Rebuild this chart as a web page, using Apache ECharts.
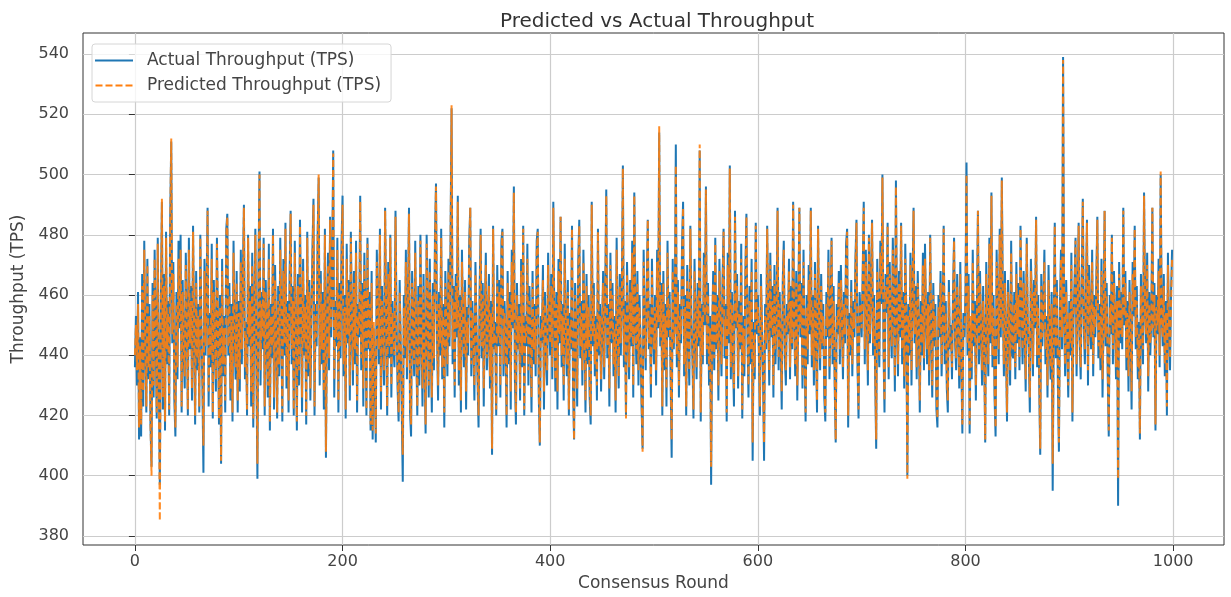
<!DOCTYPE html>
<html>
<head>
<meta charset="utf-8">
<script src="https://cdn.jsdelivr.net/npm/echarts@6/dist/echarts.min.js"></script>
<style>
html,body{margin:0;padding:0;background:#fff;}
#main{width:1231px;height:597px;}
</style>
</head>
<body>
<div id="main"></div>
<script>
var xTicks = [0, 200, 400, 600, 800, 1000];
var yTicks = [380, 400, 420, 440, 460, 480, 500, 520, 540];

// throughput per consensus round
var actualTps = [
436,453,430,461,412,446,413,467,423,478,442,421,472,432,457,417,403,464,426,475,447,419,479,433,397,457,491,422,467,415,481,437,458,420,486,511,444,471,425,413,461,432,478,449,480,421,465,440,429,474,
453,420,479,442,463,425,483,446,417,468,435,457,421,480,450,430,401,472,440,461,489,423,454,436,477,419,465,444,428,479,449,417,460,404,472,433,453,421,482,487,440,464,425,457,418,478,446,432,468,421,
458,428,475,437,467,490,432,451,420,480,443,463,423,474,416,454,482,436,399,468,501,430,461,442,479,420,465,447,426,477,415,457,439,482,422,470,446,419,463,433,479,451,418,472,440,484,429,458,421,467,
488,437,463,420,478,446,415,467,430,485,453,421,472,440,460,417,481,433,465,425,450,475,492,420,457,443,480,499,430,468,437,461,422,482,406,453,474,435,486,446,468,508,426,458,443,479,421,464,439,477,
493,433,460,419,477,444,465,425,481,450,430,468,437,478,421,457,446,493,435,464,423,474,453,420,479,442,461,415,468,412,449,432,411,475,454,437,482,422,463,444,430,489,451,420,471,439,480,426,458,443,
436,488,453,429,418,465,444,422,398,460,439,475,432,457,489,421,413,468,449,433,478,442,420,463,430,480,447,423,467,437,414,480,453,426,472,443,421,464,435,479,497,446,425,461,440,482,432,457,416,468,
453,433,472,443,479,522,437,463,426,467,446,493,430,460,421,475,450,436,465,422,456,440,478,489,433,458,444,425,471,449,432,416,461,482,439,464,423,454,474,435,447,467,429,458,407,483,442,451,420,470,
443,465,426,478,482,433,458,446,416,468,437,461,422,475,449,496,432,417,464,442,457,425,472,436,483,420,453,443,477,430,463,447,421,468,437,457,433,478,482,426,410,453,444,470,422,461,440,430,474,449,
440,467,432,491,451,428,461,422,472,444,486,436,457,425,477,447,433,465,420,454,442,483,429,412,464,446,423,471,485,439,458,430,475,449,421,467,437,460,426,417,491,443,464,433,453,425,482,440,457,428,
449,468,432,461,495,439,457,423,474,444,464,433,453,421,479,446,429,467,440,461,503,436,458,420,471,449,432,465,443,478,426,494,453,437,468,430,460,444,423,409,475,450,435,464,485,442,457,426,472,447,
437,460,430,475,449,514,443,464,420,468,435,457,423,478,446,461,432,406,472,442,453,510,436,465,426,457,444,477,491,433,460,420,470,447,430,483,453,439,419,472,449,432,464,443,508,418,457,437,474,450,
496,437,464,430,453,397,447,468,435,479,442,460,425,472,450,433,465,482,439,457,418,474,444,503,432,461,440,423,488,449,467,429,458,442,477,419,453,433,468,487,446,426,463,437,472,405,451,432,484,447,
460,440,420,467,449,433,405,457,442,483,451,430,474,446,463,426,470,437,453,489,435,461,444,422,465,478,439,430,457,447,472,432,463,442,491,453,433,468,425,457,489,446,464,429,475,440,418,460,437,470,
447,489,436,460,430,471,444,421,483,451,435,467,442,457,426,418,461,446,475,432,453,479,437,463,430,411,457,447,468,437,470,450,432,461,444,477,482,416,454,440,465,433,458,446,472,485,436,419,461,453,
446,468,491,437,475,453,430,480,444,464,485,440,460,433,409,472,451,436,478,457,500,443,421,467,454,484,432,471,449,439,479,458,428,498,450,433,468,446,484,437,461,429,477,453,400,457,440,474,430,463,
489,444,463,432,468,450,421,458,440,474,435,477,453,437,461,430,480,447,426,464,443,457,422,416,460,446,468,433,453,483,437,458,429,421,465,442,450,432,461,479,444,435,467,449,429,471,437,414,454,446,
461,504,440,467,414,450,432,475,443,458,425,457,488,437,468,447,430,463,442,411,471,450,433,479,444,494,436,460,426,413,475,453,437,482,446,499,458,433,468,443,418,465,449,430,478,440,439,461,432,471,
444,464,435,483,453,437,468,446,428,479,450,440,421,472,457,433,465,449,486,436,460,430,407,467,443,457,475,437,453,426,470,446,432,461,395,450,484,439,465,430,408,457,475,442,539,453,433,465,443,426,
458,440,474,418,451,464,479,433,457,484,444,432,467,492,449,437,461,485,430,470,450,442,475,433,460,446,465,486,439,457,435,472,426,453,488,443,464,433,413,460,447,480,437,468,453,432,463,390,471,444,
461,442,489,450,468,435,458,428,465,446,422,471,453,483,442,463,432,451,412,467,449,437,494,457,444,474,428,461,440,453,489,446,464,415,460,447,472,436,500,454,443,467,433,458,420,474,449,435,461,475
];

var predictedTps = [
440,450,435,457,416,443,417,463,428,475,444,423,470,436,453,418,400,460,430,472,450,421,477,430,385,453,492,426,463,418,479,442,454,422,484,512,447,467,430,416,457,436,472,451,475,423,461,443,433,470,
449,422,475,444,458,429,481,449,420,464,439,453,423,479,453,435,410,468,443,457,488,428,450,440,472,421,461,447,432,477,451,419,456,405,468,437,449,425,480,486,443,460,429,453,421,474,449,436,464,425,
454,432,471,442,463,489,436,447,422,479,446,458,428,470,419,450,480,440,404,464,500,435,457,446,477,423,461,450,430,472,418,453,443,480,426,465,449,421,458,437,475,454,421,468,444,482,433,454,425,463,
487,442,458,422,474,449,418,463,435,483,456,426,468,444,456,420,479,437,461,429,453,471,490,423,453,446,478,500,435,464,442,457,428,480,408,449,470,439,485,449,464,507,432,454,446,475,425,460,443,472,
490,437,456,422,472,447,461,430,479,453,435,464,442,474,425,453,449,491,439,460,429,470,456,422,477,444,457,417,464,415,451,436,414,471,457,442,480,428,458,447,435,488,454,423,467,443,479,430,454,446,
440,486,449,433,421,461,447,428,407,456,443,471,436,453,487,425,417,464,451,437,474,444,423,458,435,478,450,429,463,442,417,477,456,430,468,446,426,460,439,475,496,449,430,457,444,479,436,453,421,464,
449,437,468,446,475,523,442,458,430,463,449,491,435,456,425,471,453,440,461,428,451,444,474,489,437,454,447,430,467,451,436,420,457,480,443,460,429,450,470,439,450,463,433,454,409,482,444,447,422,465,
446,461,430,474,481,437,454,449,420,464,442,457,428,471,451,494,436,421,460,444,453,429,468,440,482,422,449,446,472,435,458,450,426,464,442,453,437,474,481,430,411,449,447,465,428,457,443,435,470,451,
444,463,436,489,454,432,457,428,468,447,486,440,453,430,472,450,437,461,422,450,444,482,433,412,460,449,429,467,483,443,454,435,471,451,425,463,442,456,430,420,490,446,460,437,449,430,481,443,453,432,
451,464,436,457,493,443,453,429,470,447,460,437,449,425,475,449,433,463,444,457,502,440,454,419,467,451,436,461,446,474,430,493,449,442,464,435,456,447,428,408,471,453,439,460,485,444,453,430,468,450,
442,456,435,471,451,516,446,460,423,464,439,453,429,474,449,457,436,412,468,444,449,503,440,461,430,453,447,472,489,437,456,423,465,450,435,482,449,442,422,468,451,436,460,446,510,421,453,440,470,453,
495,442,460,435,449,403,450,464,439,477,444,456,430,468,453,437,461,481,443,453,421,470,447,502,436,457,443,429,486,451,463,433,454,444,472,422,449,437,464,486,449,430,458,442,468,411,447,436,483,450,
456,444,423,463,451,437,411,453,444,482,454,435,470,449,458,430,465,442,449,488,439,457,447,428,461,475,443,435,453,450,468,436,458,444,490,449,437,464,430,453,489,449,460,433,471,443,421,456,442,465,
450,488,440,456,435,467,447,425,482,454,439,463,444,453,432,421,457,449,471,436,449,478,442,458,435,412,453,450,464,442,465,453,436,457,447,472,481,420,450,443,461,437,454,449,468,484,440,422,457,456,
449,464,489,442,471,456,435,479,447,460,484,444,456,437,412,468,454,440,474,460,499,446,425,463,457,483,436,467,451,443,475,461,433,496,453,437,464,449,483,442,457,433,472,456,399,453,444,470,435,458,
488,447,458,436,464,453,425,454,444,470,439,472,456,442,457,435,479,450,430,460,446,453,428,419,456,449,464,437,449,482,442,454,433,425,461,444,446,436,457,478,447,439,463,451,433,467,442,417,450,449,
457,500,444,463,417,453,436,471,446,454,430,453,488,442,464,450,435,458,444,412,467,453,437,477,447,493,440,456,430,416,471,456,442,480,449,498,454,437,464,446,421,461,451,435,474,443,442,457,436,467,
447,460,439,482,456,442,464,449,432,477,453,444,426,468,460,437,461,451,485,440,456,435,409,463,446,453,471,442,449,430,465,449,436,457,404,446,483,443,461,435,411,453,472,446,538,456,437,461,446,430,
454,444,470,421,454,460,478,437,453,483,447,436,463,491,451,442,457,484,435,465,453,446,471,437,456,449,461,485,443,453,439,468,432,449,488,446,460,437,415,456,450,479,442,464,456,436,458,399,467,447,
457,446,488,453,464,439,454,433,461,449,428,467,456,482,446,458,436,447,414,463,451,442,493,453,447,470,433,457,444,449,489,449,460,417,456,450,468,440,501,451,446,463,437,454,423,470,451,439,457,472
];

var actualData = [];
var predictedData = [];
for (var i = 0; i < actualTps.length; i++) {
    actualData.push([i, actualTps[i]]);
    predictedData.push([i, predictedTps[i]]);
}

var myChart = echarts.init(document.getElementById('main'), null, {renderer: 'canvas'});
var fontFam = 'DejaVu Sans';

option = {
    animation: false,
    backgroundColor: '#fff',
    title: {
        text: 'Predicted vs Actual Throughput',
        left: 652,
        top: 7,
        textAlign: 'center',
        textStyle: {fontFamily: fontFam, fontSize: 20, fontWeight: 'normal', color: '#333'}
    },
    legend: {
        orient: 'vertical',
        left: 92,
        top: 44,
        padding: [8, 10, 8, 3],
        itemGap: 8,
        itemWidth: 38,
        itemHeight: 2,
        backgroundColor: 'rgba(255,255,255,0.8)',
        borderColor: '#d6d6d6',
        borderWidth: 1,
        borderRadius: 3,
        textStyle: {fontFamily: fontFam, fontSize: 17, lineHeight: 17, color: '#444', padding: [0, 0, 0, 9]},
        data: [
            {name: 'Actual Throughput (TPS)', icon: 'path://M0,0h38v2h-38z'},
            {name: 'Predicted Throughput (TPS)', icon: 'path://M0,0h7v2h-7zM10,0h7v2h-7zM20,0h7v2h-7zM30,0h7v2h-7z'}
        ]
    },
    grid: {
        left: 83,
        right: 7,
        top: 33,
        bottom: 51,
        show: true,
        borderColor: '#333',
        borderWidth: 1,
        backgroundColor: 'transparent'
    },
    xAxis: {
        type: 'value',
        min: -50,
        max: 1049,
        name: 'Consensus Round',
        nameLocation: 'middle',
        nameGap: 30,
        nameTextStyle: {fontFamily: fontFam, fontSize: 17, color: '#444'},
        axisLine: {show: false},
        axisTick: {show: true, length: 6, lineStyle: {color: '#333'}, customValues: xTicks},
        axisLabel: {fontFamily: fontFam, fontSize: 16, color: '#444', margin: 9, customValues: xTicks,
            formatter: function (v) { return String(v); }},
        splitLine: {show: true, lineStyle: {color: '#cccccc', width: 1.2}}
    },
    yAxis: {
        type: 'value',
        min: 377,
        max: 547,
        name: 'Throughput (TPS)',
        nameLocation: 'middle',
        nameGap: 55,
        nameTextStyle: {fontFamily: fontFam, fontSize: 17, color: '#444'},
        axisLine: {show: false},
        axisTick: {show: true, length: 6, lineStyle: {color: '#333'}, customValues: yTicks},
        axisLabel: {fontFamily: fontFam, fontSize: 16, color: '#444', margin: 14, customValues: yTicks},
        splitLine: {show: true, lineStyle: {color: '#cccccc', width: 1.2}}
    },
    series: [{
        name: 'Actual Throughput (TPS)',
        type: 'line',
        data: actualData,
        symbol: 'none',
        color: '#1f77b4',
        lineStyle: {color: '#1f77b4', width: 2}
    }, {
        name: 'Predicted Throughput (TPS)',
        type: 'line',
        data: predictedData,
        symbol: 'none',
        color: '#ff7f0e',
        lineStyle: {color: '#ff7f0e', width: 2, type: [7, 3], opacity: 0.9}
    }]
};
myChart.setOption(option);
</script>
</body>
</html>
